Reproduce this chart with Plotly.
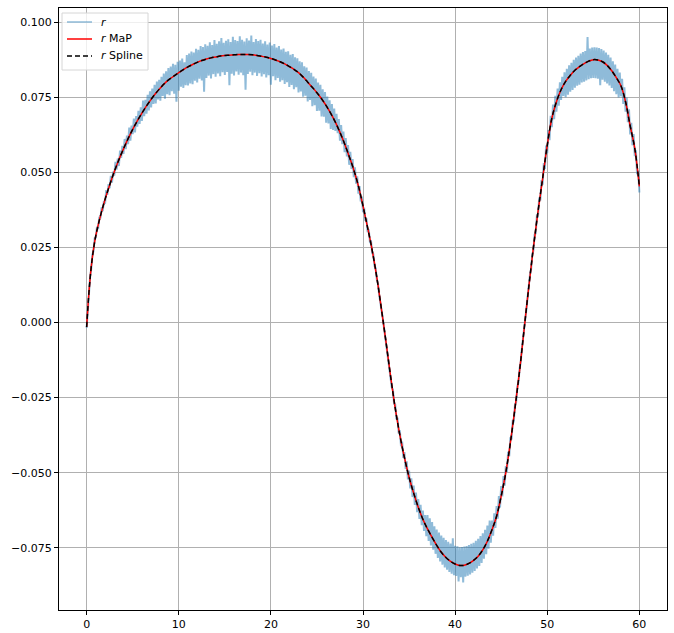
import plotly.graph_objects as go

# ---- data ----
# noisy observation r, sampled every 0.125 along x (one row per unit of x)
r_y = [
    -0.0018, 0.0052, 0.0094, 0.0151, 0.0179, 0.0226, 0.0238, 0.0281,
    0.0283, 0.0319, 0.0311, 0.0352, 0.0347, 0.0383, 0.0371, 0.0405,
    0.0396, 0.0441, 0.0425, 0.0461, 0.0447, 0.0488, 0.0466, 0.0502,
    0.0489, 0.0535, 0.0509, 0.0546, 0.0521, 0.0572, 0.0548, 0.0588,
    0.0561, 0.0611, 0.0577, 0.0622, 0.0594, 0.0649, 0.0605, 0.0656,
    0.0627, 0.0679, 0.0633, 0.0687, 0.0652, 0.0705, 0.0661, 0.0716,
    0.0671, 0.0739, 0.0687, 0.0741, 0.0695, 0.0758, 0.0706, 0.0770,
    0.0716, 0.0779, 0.0728, 0.0791, 0.0729, 0.0802, 0.0743, 0.0808,
    0.0738, 0.0818, 0.0754, 0.0829, 0.0745, 0.0836, 0.0760, 0.0847,
    0.0757, 0.0852, 0.0770, 0.0861, 0.0762, 0.0858, 0.0735, 0.0868,
    0.0772, 0.0872, 0.0785, 0.0879, 0.0781, 0.0866, 0.0790, 0.0890,
    0.0789, 0.0895, 0.0796, 0.0902, 0.0793, 0.0899, 0.0805, 0.0911,
    0.0799, 0.0908, 0.0812, 0.0920, 0.0806, 0.0917, 0.0768, 0.0926,
    0.0814, 0.0921, 0.0822, 0.0933, 0.0812, 0.0924, 0.0827, 0.0940,
    0.0818, 0.0928, 0.0829, 0.0936, 0.0820, 0.0947, 0.0833, 0.0931,
    0.0824, 0.0938, 0.0834, 0.0943, 0.0790, 0.0934, 0.0828, 0.0951,
    0.0822, 0.0940, 0.0836, 0.0937, 0.0825, 0.0953, 0.0832, 0.0941,
    0.0823, 0.0935, 0.0775, 0.0946, 0.0827, 0.0939, 0.0835, 0.0955,
    0.0823, 0.0934, 0.0832, 0.0944, 0.0821, 0.0937, 0.0830, 0.0941,
    0.0819, 0.0929, 0.0827, 0.0936, 0.0816, 0.0925, 0.0823, 0.0932,
    0.0792, 0.0922, 0.0820, 0.0927, 0.0807, 0.0915, 0.0814, 0.0920,
    0.0802, 0.0909, 0.0807, 0.0912, 0.0794, 0.0901, 0.0800, 0.0903,
    0.0784, 0.0891, 0.0791, 0.0894, 0.0777, 0.0883, 0.0783, 0.0880,
    0.0766, 0.0870, 0.0769, 0.0866, 0.0752, 0.0853, 0.0755, 0.0849,
    0.0736, 0.0837, 0.0741, 0.0831, 0.0720, 0.0819, 0.0723, 0.0812,
    0.0704, 0.0799, 0.0705, 0.0791, 0.0686, 0.0776, 0.0685, 0.0767,
    0.0665, 0.0752, 0.0663, 0.0740, 0.0644, 0.0727, 0.0641, 0.0712,
    0.0638, 0.0695, 0.0630, 0.0677, 0.0605, 0.0657, 0.0594, 0.0636,
    0.0567, 0.0614, 0.0553, 0.0591, 0.0525, 0.0568, 0.0511, 0.0544,
    0.0484, 0.0517, 0.0462, 0.0487, 0.0429, 0.0454, 0.0403, 0.0419,
    0.0367, 0.0383, 0.0338, 0.0347, 0.0301, 0.0310, 0.0268, 0.0270,
    0.0230, 0.0228, 0.0188, 0.0181, 0.0143, 0.0130, 0.0094, 0.0074,
    0.0043, 0.0019, -0.0010, -0.0039, -0.0062, -0.0098, -0.0117, -0.0158,
    -0.0172, -0.0216, -0.0224, -0.0271, -0.0273, -0.0322, -0.0317, -0.0369,
    -0.0359, -0.0412, -0.0396, -0.0451, -0.0431, -0.0487, -0.0462, -0.0522,
    -0.0493, -0.0552, -0.0519, -0.0581, -0.0543, -0.0607, -0.0566, -0.0631,
    -0.0588, -0.0654, -0.0607, -0.0675, -0.0626, -0.0694, -0.0641, -0.0711,
    -0.0641, -0.0727, -0.0652, -0.0742, -0.0664, -0.0756, -0.0678, -0.0770,
    -0.0689, -0.0784, -0.0699, -0.0795, -0.0709, -0.0806, -0.0717, -0.0815,
    -0.0724, -0.0823, -0.0730, -0.0830, -0.0736, -0.0836, -0.0718, -0.0841,
    -0.0743, -0.0844, -0.0745, -0.0862, -0.0748, -0.0848, -0.0747, -0.0865,
    -0.0746, -0.0846, -0.0744, -0.0843, -0.0741, -0.0839, -0.0737, -0.0833,
    -0.0733, -0.0827, -0.0727, -0.0819, -0.0720, -0.0810, -0.0711, -0.0800,
    -0.0702, -0.0786, -0.0690, -0.0771, -0.0676, -0.0753, -0.0659, -0.0733,
    -0.0659, -0.0710, -0.0635, -0.0684, -0.0611, -0.0653, -0.0578, -0.0616,
    -0.0544, -0.0579, -0.0511, -0.0543, -0.0478, -0.0497, -0.0430, -0.0445,
    -0.0382, -0.0389, -0.0328, -0.0329, -0.0272, -0.0266, -0.0213, -0.0200,
    -0.0153, -0.0131, -0.0086, -0.0058, -0.0019, 0.0016, 0.0048, 0.0089,
    0.0115, 0.0160, 0.0177, 0.0228, 0.0239, 0.0293, 0.0296, 0.0356,
    0.0354, 0.0416, 0.0406, 0.0474, 0.0459, 0.0531, 0.0511, 0.0589,
    0.0564, 0.0641, 0.0607, 0.0688, 0.0650, 0.0726, 0.0677, 0.0755,
    0.0702, 0.0779, 0.0722, 0.0800, 0.0741, 0.0818, 0.0754, 0.0833,
    0.0750, 0.0845, 0.0758, 0.0856, 0.0768, 0.0865, 0.0774, 0.0875,
    0.0782, 0.0882, 0.0788, 0.0888, 0.0792, 0.0895, 0.0799, 0.0900,
    0.0802, 0.0904, 0.0806, 0.0950, 0.0810, 0.0912, 0.0813, 0.0915,
    0.0814, 0.0916, 0.0813, 0.0915, 0.0812, 0.0914, 0.0790, 0.0910,
    0.0808, 0.0905, 0.0802, 0.0899, 0.0796, 0.0891, 0.0789, 0.0882,
    0.0781, 0.0870, 0.0770, 0.0859, 0.0760, 0.0845, 0.0749, 0.0832,
    0.0753, 0.0811, 0.0728, 0.0783, 0.0702, 0.0749, 0.0667, 0.0710,
    0.0626, 0.0665, 0.0590, 0.0627, 0.0554, 0.0573, 0.0494, 0.0507,
    0.0433,
]
r_x = [i * 0.125 for i in range(len(r_y))]

# smooth MaP estimate (knots)
map_x = [0, 0.25, 0.5, 0.75, 1, 1.5, 2, 2.5, 3, 3.5, 4, 4.5, 5, 5.5, 6, 6.5, 7, 7.5, 8, 8.5,
         9, 9.5, 10, 10.5, 11, 11.5, 12, 12.5, 13, 13.5, 14, 14.5, 15, 15.5, 16, 16.5, 17, 17.5,
         18, 18.5, 19, 19.5, 20, 20.5, 21, 21.5, 22, 22.5, 23, 23.5, 24, 24.5, 25, 25.5, 26, 26.5,
         27, 27.5, 28, 28.5, 29, 29.5, 30, 30.5, 31, 31.5, 32, 32.5, 33, 33.5, 34, 34.5, 35, 35.5,
         36, 36.5, 37, 37.5, 38, 38.5, 39, 39.5, 40, 40.5, 41, 41.5, 42, 42.5, 43, 43.5, 44, 44.5,
         45, 45.5, 46, 46.5, 47, 47.5, 48, 48.5, 49, 49.5, 50, 50.5, 51, 51.5, 52, 52.5, 53, 53.5,
         54, 54.5, 55, 55.5, 56, 56.5, 57, 57.5, 58, 58.5, 59, 59.5, 60]
map_y = [-0.0015, 0.0100, 0.0185, 0.0245, 0.0290, 0.0355, 0.0410, 0.0458, 0.0502, 0.0542,
         0.0578, 0.0612, 0.0643, 0.0671, 0.0697, 0.0721, 0.0743, 0.0763, 0.0781, 0.0797,
         0.0810, 0.0821, 0.0832, 0.0842, 0.0851, 0.0859, 0.0866, 0.0872, 0.0877, 0.0881,
         0.0884, 0.0887, 0.0889, 0.0890, 0.0891, 0.0892, 0.0892, 0.0892, 0.0891, 0.0889,
         0.0886, 0.0883, 0.0879, 0.0874, 0.0868, 0.0861, 0.0852, 0.0843, 0.0832, 0.0817,
         0.0800, 0.0783, 0.0765, 0.0745, 0.0722, 0.0696, 0.0667, 0.0633, 0.0595, 0.0553,
         0.0508, 0.0455, 0.0388, 0.0316, 0.0240, 0.0150, 0.0045, -0.0065, -0.0180, -0.0285,
         -0.0375, -0.0450, -0.0515, -0.0568, -0.0615, -0.0655, -0.0687, -0.0715, -0.0742, -0.0765,
         -0.0782, -0.0795, -0.0804, -0.0809, -0.0808, -0.0802, -0.0792, -0.0778, -0.0757, -0.0728,
         -0.0690, -0.0645, -0.0578, -0.0500, -0.0400, -0.0285, -0.0160, -0.0020, 0.0120, 0.0250,
         0.0370, 0.0480, 0.0590, 0.0680, 0.0735, 0.0775, 0.0803, 0.0823, 0.0840, 0.0852,
         0.0862, 0.0870, 0.0875, 0.0874, 0.0868, 0.0856, 0.0838, 0.0815, 0.0788, 0.0735,
         0.0655, 0.0580, 0.0453]

# spline fit (coincides with the MaP curve in the picture)
spline_x = list(map_x)
spline_y = [-0.0015, 0.0100, 0.0185, 0.0245, 0.0290, 0.0355, 0.0410, 0.0458, 0.0502, 0.0542,
            0.0578, 0.0612, 0.0643, 0.0671, 0.0697, 0.0721, 0.0743, 0.0763, 0.0781, 0.0797,
            0.0810, 0.0821, 0.0832, 0.0842, 0.0851, 0.0859, 0.0866, 0.0872, 0.0877, 0.0881,
            0.0884, 0.0887, 0.0889, 0.0890, 0.0891, 0.0892, 0.0892, 0.0892, 0.0891, 0.0889,
            0.0886, 0.0883, 0.0879, 0.0874, 0.0868, 0.0861, 0.0852, 0.0843, 0.0832, 0.0817,
            0.0800, 0.0783, 0.0765, 0.0745, 0.0722, 0.0696, 0.0667, 0.0633, 0.0595, 0.0553,
            0.0508, 0.0455, 0.0388, 0.0316, 0.0240, 0.0150, 0.0045, -0.0065, -0.0180, -0.0285,
            -0.0375, -0.0450, -0.0515, -0.0568, -0.0615, -0.0655, -0.0687, -0.0715, -0.0742, -0.0765,
            -0.0782, -0.0795, -0.0804, -0.0809, -0.0808, -0.0802, -0.0792, -0.0778, -0.0757, -0.0728,
            -0.0690, -0.0645, -0.0578, -0.0500, -0.0400, -0.0285, -0.0160, -0.0020, 0.0120, 0.0250,
            0.0370, 0.0480, 0.0590, 0.0680, 0.0735, 0.0775, 0.0803, 0.0823, 0.0840, 0.0852,
            0.0862, 0.0870, 0.0875, 0.0874, 0.0868, 0.0856, 0.0838, 0.0815, 0.0788, 0.0735,
            0.0655, 0.0580, 0.0453]

x_ticks = [0, 10, 20, 30, 40, 50, 60]
x_tick_labels = ["0", "10", "20", "30", "40", "50", "60"]
y_ticks = [-0.075, -0.05, -0.025, 0.0, 0.025, 0.05, 0.075, 0.1]
y_tick_labels = ["\u22120.075", "\u22120.050", "\u22120.025", "0.000", "0.025", "0.050", "0.075", "0.100"]

series_names = ["<i>r</i>", "<i>r</i> MaP", "<i>r</i> Spline"]
series_colors = ["rgba(31,119,180,0.5)", "red", "black"]
series_dash = ["solid", "solid", "5px,3px"]

fig = go.Figure()
fig.add_trace(go.Scatter(x=r_x, y=r_y, mode="lines", name=series_names[0], showlegend=False,
                         line=dict(color=series_colors[0], width=2.0)))
fig.add_trace(go.Scatter(x=map_x, y=map_y, mode="lines", name=series_names[1], showlegend=False,
                         line=dict(color=series_colors[1], width=1.5, shape="spline")))
fig.add_trace(go.Scatter(x=spline_x, y=spline_y, mode="lines", name=series_names[2], showlegend=False,
                         line=dict(color=series_colors[2], width=1.5, dash=series_dash[2], shape="spline")))

# ---- legend box drawn in the upper-left corner (matplotlib style) ----
PL, PW, PT, PH = 59, 608, 8, 602   # plot area in pixels


def px_x(p):
    return (p - PL) / PW


def px_y(p):
    return 1 - (p - PT) / PH


shapes = [dict(type="rect", xref="paper", yref="paper",
               x0=px_x(62), x1=px_x(148), y0=px_y(70), y1=px_y(13),
               line=dict(color="#d6d6d6", width=1), fillcolor="rgba(255,255,255,0.8)",
               layer="above")]
annotations = []
row_y = [22, 39, 56]
for i, name in enumerate(series_names):
    shapes.append(dict(type="line", xref="paper", yref="paper",
                       x0=px_x(67), x1=px_x(92), y0=px_y(row_y[i]), y1=px_y(row_y[i]),
                       line=dict(color=series_colors[i], width=1.5,
                                 dash=series_dash[i]), layer="above"))
    annotations.append(dict(xref="paper", yref="paper", x=px_x(99), y=px_y(row_y[i]),
                            text=name, showarrow=False, xanchor="left", yanchor="middle",
                            font=dict(family="DejaVu Sans", size=11, color="black")))

axis_common = dict(
    showline=True, mirror=True, linecolor="black", linewidth=1,
    ticks="outside", ticklen=4, tickwidth=1, tickcolor="black",
    showgrid=True, gridcolor="#b0b0b0", gridwidth=0.8, zeroline=False,
    automargin=False,
    tickfont=dict(family="DejaVu Sans", size=11, color="black"),
)

fig.update_xaxes(range=[-3, 63], tickvals=x_ticks, ticktext=x_tick_labels, **axis_common)
fig.update_yaxes(range=[-0.0957, 0.1047], tickvals=y_ticks, ticktext=y_tick_labels, **axis_common)

fig.update_layout(
    width=674, height=633,
    margin=dict(l=PL, r=674 - PL - PW, t=PT, b=633 - PT - PH),
    paper_bgcolor="white", plot_bgcolor="white",
    font=dict(family="DejaVu Sans", size=11, color="black"),
    showlegend=False,
    shapes=shapes,
    annotations=annotations,
)

fig.write_html("out.html", config={"displayModeBar": False},
               post_script="document.body.style.margin='0';document.body.style.overflow='hidden';")
